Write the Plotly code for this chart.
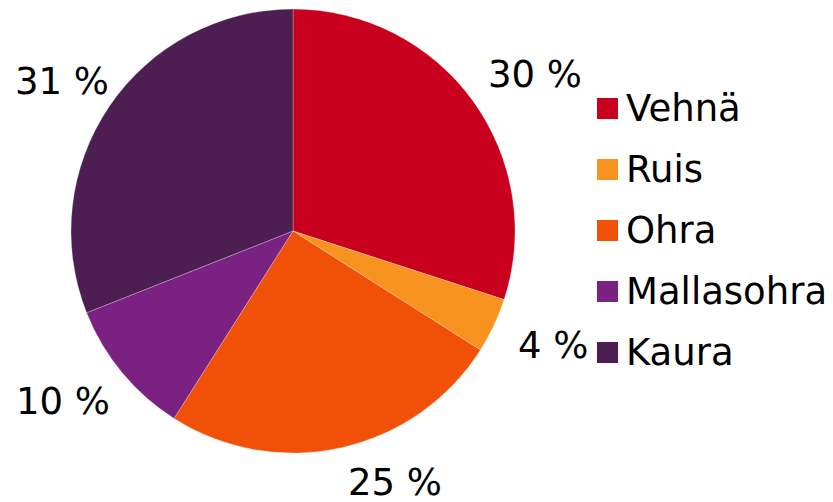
import math
import plotly.graph_objects as go

categories = ["Vehnä", "Ruis", "Ohra", "Mallasohra", "Kaura"]
values = [30, 4, 25, 10, 31]
colors = ["#C8001E", "#F7931E", "#F05008", "#7B2181", "#4D1E51"]

# page body has an 8px margin, so the figure is 8px smaller than the window
W, H = 825, 494
FONT = "DejaVu Sans"
FS = 37

def px(x):
    return x / W

def py(y):
    return 1 - y / H

# pie geometry (figure pixels)
CX, CY, R = 285, 223, 222

fig = go.Figure()
fig.add_trace(go.Pie(
    labels=categories,
    values=values,
    sort=False,
    direction="clockwise",
    rotation=0,
    marker=dict(colors=colors, line=dict(color="rgba(255,255,255,0.45)", width=0.6)),
    textinfo="none",
    showlegend=False,
    hoverinfo="label+value",
    domain=dict(x=[px(CX - R), px(CX + R)], y=[py(CY + R), py(CY - R)]),
))

annotations = []

# percentage labels outside the pie: each sits on an ellipse around the pie at its
# slice's mid-angle, kept inside the label area; labels pushed up from the bottom
# edge slide sideways along their ellipse.
total = sum(values)
cum = 0
GAP = 30
TEXT_H = 30
MIN_X, MAX_X, MAX_Y = 7, 580, 489
for v in values:
    mid = (cum + v / 2) / total * 2 * math.pi
    cum += v
    dx, dy = math.sin(mid), -math.cos(mid)
    txt = f"{v} %"
    w = (0.636 * len(str(v)) + 0.318 + 0.95) * FS
    ax, ay = R + GAP + w / 2, R + GAP + TEXT_H / 2
    lx = CX + ax * dx
    ly = CY + ay * dy
    if ly > MAX_Y - TEXT_H / 2:
        ly = MAX_Y - TEXT_H / 2
        fy = (ly - CY) / ay
        lx = CX + math.copysign(ax * math.sqrt(max(0.0, 1 - fy * fy)), dx)
    lx = min(max(lx, MIN_X + w / 2), MAX_X - w / 2)
    annotations.append(dict(text=txt, xref="paper", yref="paper",
                            x=px(lx), y=py(ly), xanchor="center", yanchor="middle",
                            height=36, showarrow=False,
                            font=dict(family=FONT, size=FS, color="#000000")))

# legend drawn as squares + text
shapes = []
row0, gap = 100.5, 61
for i, (name, col) in enumerate(zip(categories, colors)):
    cy = row0 + i * gap
    shapes.append(dict(type="rect", xref="paper", yref="paper",
                       x0=px(589), x1=px(610),
                       y0=py(cy + 10.5), y1=py(cy - 10.5),
                       fillcolor=col, line=dict(width=0)))
    annotations.append(dict(text=name, xref="paper", yref="paper",
                            x=px(616), y=py(cy), xanchor="left", yanchor="middle",
                            showarrow=False,
                            font=dict(family=FONT, size=FS, color="#000000")))

# partially visible title character at the right edge
annotations.append(dict(text="2", xref="paper", yref="paper",
                        x=px(819), y=py(50), xanchor="left", yanchor="middle",
                        showarrow=False,
                        font=dict(family=FONT, size=FS, color="#000000")))

fig.update_layout(
    width=W, height=H,
    margin=dict(l=0, r=0, t=0, b=0),
    paper_bgcolor="white",
    plot_bgcolor="white",
    shapes=shapes,
    annotations=annotations,
)

fig.write_html("out.html")
